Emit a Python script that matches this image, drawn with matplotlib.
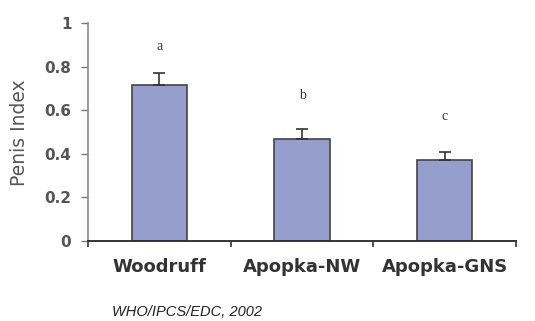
import matplotlib
matplotlib.use("Agg")
import matplotlib.pyplot as plt

# data
sites = ["Woodruff", "Apopka-NW", "Apopka-GNS"]
penis_index = [0.714, 0.466, 0.370]
err_upper = [0.058, 0.048, 0.040]
letters = ["a", "b", "c"]
letter_y = [0.89, 0.667, 0.573]
y_ticks = [0, 0.2, 0.4, 0.6, 0.8, 1]
y_tick_labels = ["0", "0.2", "0.4", "0.6", "0.8", "1"]

fig = plt.figure(figsize=(5.35, 3.21), dpi=100)
ax = fig.add_axes([88 / 535, 80 / 321, 428 / 535, 218 / 321])

x = list(range(len(sites)))
ax.bar(x, penis_index, width=0.39, color="#959ecc", edgecolor="#444444",
       linewidth=1.2, zorder=2)
ax.errorbar(x, penis_index, yerr=[[0] * len(x), err_upper], fmt="none",
            ecolor="#333333", elinewidth=1.2, capsize=4, capthick=1.2, zorder=3)

for xi, lab, ly in zip(x, letters, letter_y):
    ax.text(xi, ly, lab, ha="center", va="center", fontsize=10,
            family="Liberation Serif", color="#333333")

ax.set_xlim(-0.5, 2.5)
ax.set_ylim(0, 1)

# tick marks at category borders, labels in the middle
ax.set_xticks([-0.5, 0.5, 1.5, 2.5])
ax.set_xticklabels([])
ax.set_xticks(x, minor=True)
ax.set_xticklabels(sites, minor=True, fontsize=13, fontweight="bold",
                   family="DejaVu Sans", color="#333333")
ax.tick_params(axis="x", which="minor", length=0, pad=12)
ax.tick_params(axis="x", which="major", direction="out", length=4,
               width=1.2, color="#333333")

ax.set_yticks(y_ticks)
ax.set_yticklabels(y_tick_labels, fontsize=11, fontweight="bold",
                   family="DejaVu Sans", color="#555555")
ax.tick_params(axis="y", direction="out", length=5, width=1.0,
               color="#777777", pad=7)

for side in ["top", "right"]:
    ax.spines[side].set_visible(False)
ax.spines["left"].set_color("#888888")
ax.spines["left"].set_linewidth(1.2)
ax.spines["bottom"].set_color("#333333")
ax.spines["bottom"].set_linewidth(1.4)

fig.text(20 / 535, 1 - 133 / 321, "Penis Index", rotation=90, ha="center",
         va="center", fontsize=13.5, family="DejaVu Sans", color="#555555")
fig.text(112 / 535, 1 - 312 / 321, "WHO/IPCS/EDC, 2002", ha="left",
         va="center", fontsize=10.5, style="italic",
         family="Liberation Sans", color="#222222")

fig.savefig("out.png", dpi=100)
